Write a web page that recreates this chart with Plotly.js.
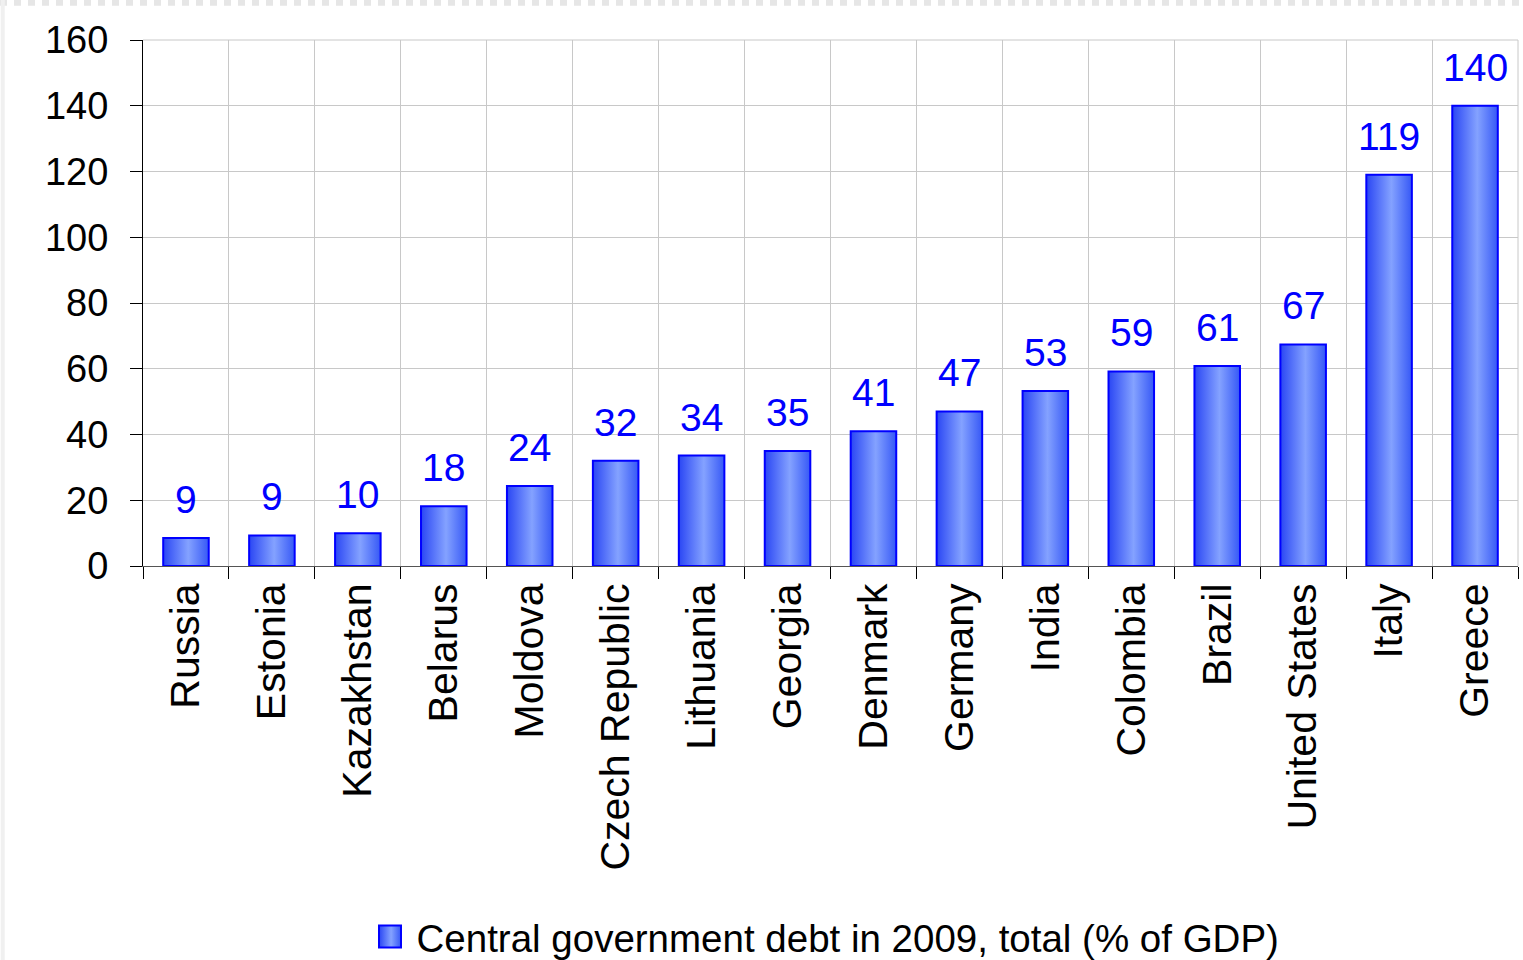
<!DOCTYPE html>
<html><head><meta charset="utf-8">
<script src="https://cdn.plot.ly/plotly-3.0.1.min.js"></script>
<style>html,body{margin:0;padding:0;background:#fff;}#chart{width:1523px;height:960px;}</style>
</head><body><div id="chart"></div>
<script>
const countries = ["Russia","Estonia","Kazakhstan","Belarus","Moldova","Czech Republic","Lithuania","Georgia","Denmark","Germany","India","Colombia","Brazil","United States","Italy","Greece"];
const debt = [8.5, 9.3, 10, 18.2, 24.3, 32, 33.6, 35, 41, 47, 53.2, 59.2, 60.8, 67.4, 119, 140];
const labels = ["9","9","10","18","24","32","34","35","41","47","53","59","61","67","119","140"];
const seriesName = "Central government debt in 2009, total (% of GDP)";

const FONT = "Liberation Sans, Arial, sans-serif";
const trace = {
  type: "bar", x: countries, y: debt, name: seriesName,
  marker: {color: "#5f7fff", line: {color: "#0000ff", width: 2}},
  width: 0.53, hoverinfo: "x+y", showlegend: true
};
const annotations = countries.map((c, i) => ({
  x: c, y: debt[i], text: labels[i], showarrow: false,
  xref: "x", yref: "y", yanchor: "bottom", yshift: 15,
  font: {family: FONT, size: 39, color: "#0000ff"}
}));
const layout = {
  width: 1523, height: 960,
  margin: {l: 143, r: 5, t: 40, b: 394},
  paper_bgcolor: "#ffffff", plot_bgcolor: "#ffffff",
  font: {family: FONT, size: 38, color: "#000"},
  showlegend: true,
  legend: {orientation: "h", x: 0.5, xanchor: "center", yref: "container", y: 0.024, yanchor: "middle",
           font: {family: FONT, size: 38.5, color: "#000"}},
  xaxis: {type: "category", tickson: "boundaries", ticks: "outside", ticklen: 12, tickcolor: "#000",
          tickangle: -90, showgrid: true, gridcolor: "#c8c8c8", gridwidth: 1,
          showline: true, linecolor: "#555", linewidth: 1, mirror: false,
          tickfont: {family: FONT, size: 41}, automargin: false},
  yaxis: {range: [0, 160], dtick: 20, ticks: "outside", ticklen: 12, tickcolor: "#000",
          showgrid: true, gridcolor: "#c8c8c8", gridwidth: 1, zeroline: false,
          showline: true, linecolor: "#000", linewidth: 1, ticklabelstandoff: 14,
          tickfont: {family: FONT, size: 38}, automargin: false},
  annotations: annotations,
  shapes: [
    {type: "line", xref: "paper", yref: "paper", x0: 0, x1: 1, y0: 1, y1: 1, line: {color: "#c8c8c8", width: 1}},
    {type: "line", xref: "paper", yref: "paper", x0: 1, x1: 1, y0: 0, y1: 1, line: {color: "#c8c8c8", width: 1}},
    {type: "line", xref: "paper", yref: "paper", x0: -0.104, x1: 1.004, y0: 1.072, y1: 1.072, line: {color: "#e6e6e6", width: 7, dash: "dot"}},
    {type: "line", xref: "paper", yref: "paper", x0: -0.102, x1: -0.102, y0: 1.076, y1: -0.75, line: {color: "#f0f0f0", width: 4}}
  ]
};
function applyGradient(gd) {
  const svg = gd.querySelector("svg.main-svg");
  if (!svg) return;
  let defs = svg.querySelector("defs");
  if (!defs) { defs = document.createElementNS("http://www.w3.org/2000/svg", "defs"); svg.insertBefore(defs, svg.firstChild); }
  if (!svg.querySelector("#barGrad")) {
    const g = document.createElementNS("http://www.w3.org/2000/svg", "linearGradient");
    g.setAttribute("id", "barGrad"); g.setAttribute("x1", "0"); g.setAttribute("x2", "1"); g.setAttribute("y1", "0"); g.setAttribute("y2", "0");
    [["0", "#2a46f4"], ["0.55", "#84a2ff"], ["1", "#3658f6"]].forEach(([o, c]) => {
      const s = document.createElementNS("http://www.w3.org/2000/svg", "stop");
      s.setAttribute("offset", o); s.setAttribute("stop-color", c); g.appendChild(s);
    });
    defs.appendChild(g);
  }
  gd.querySelectorAll(".bars path").forEach(p => { p.style.fill = "url(#barGrad)"; });
  gd.querySelectorAll(".legendpoints path").forEach(p => {
    p.setAttribute("d", "M4.5,11H-17.5V-11H4.5Z");
    p.style.fill = "url(#barGrad)";
    p.style.strokeWidth = "2px";
  });
}
const gd = document.getElementById("chart");
Plotly.newPlot(gd, [trace], layout, {displayModeBar: false, staticPlot: true}).then(() => {
  applyGradient(gd);
  gd.on("plotly_afterplot", () => applyGradient(gd));
});
</script></body></html>
